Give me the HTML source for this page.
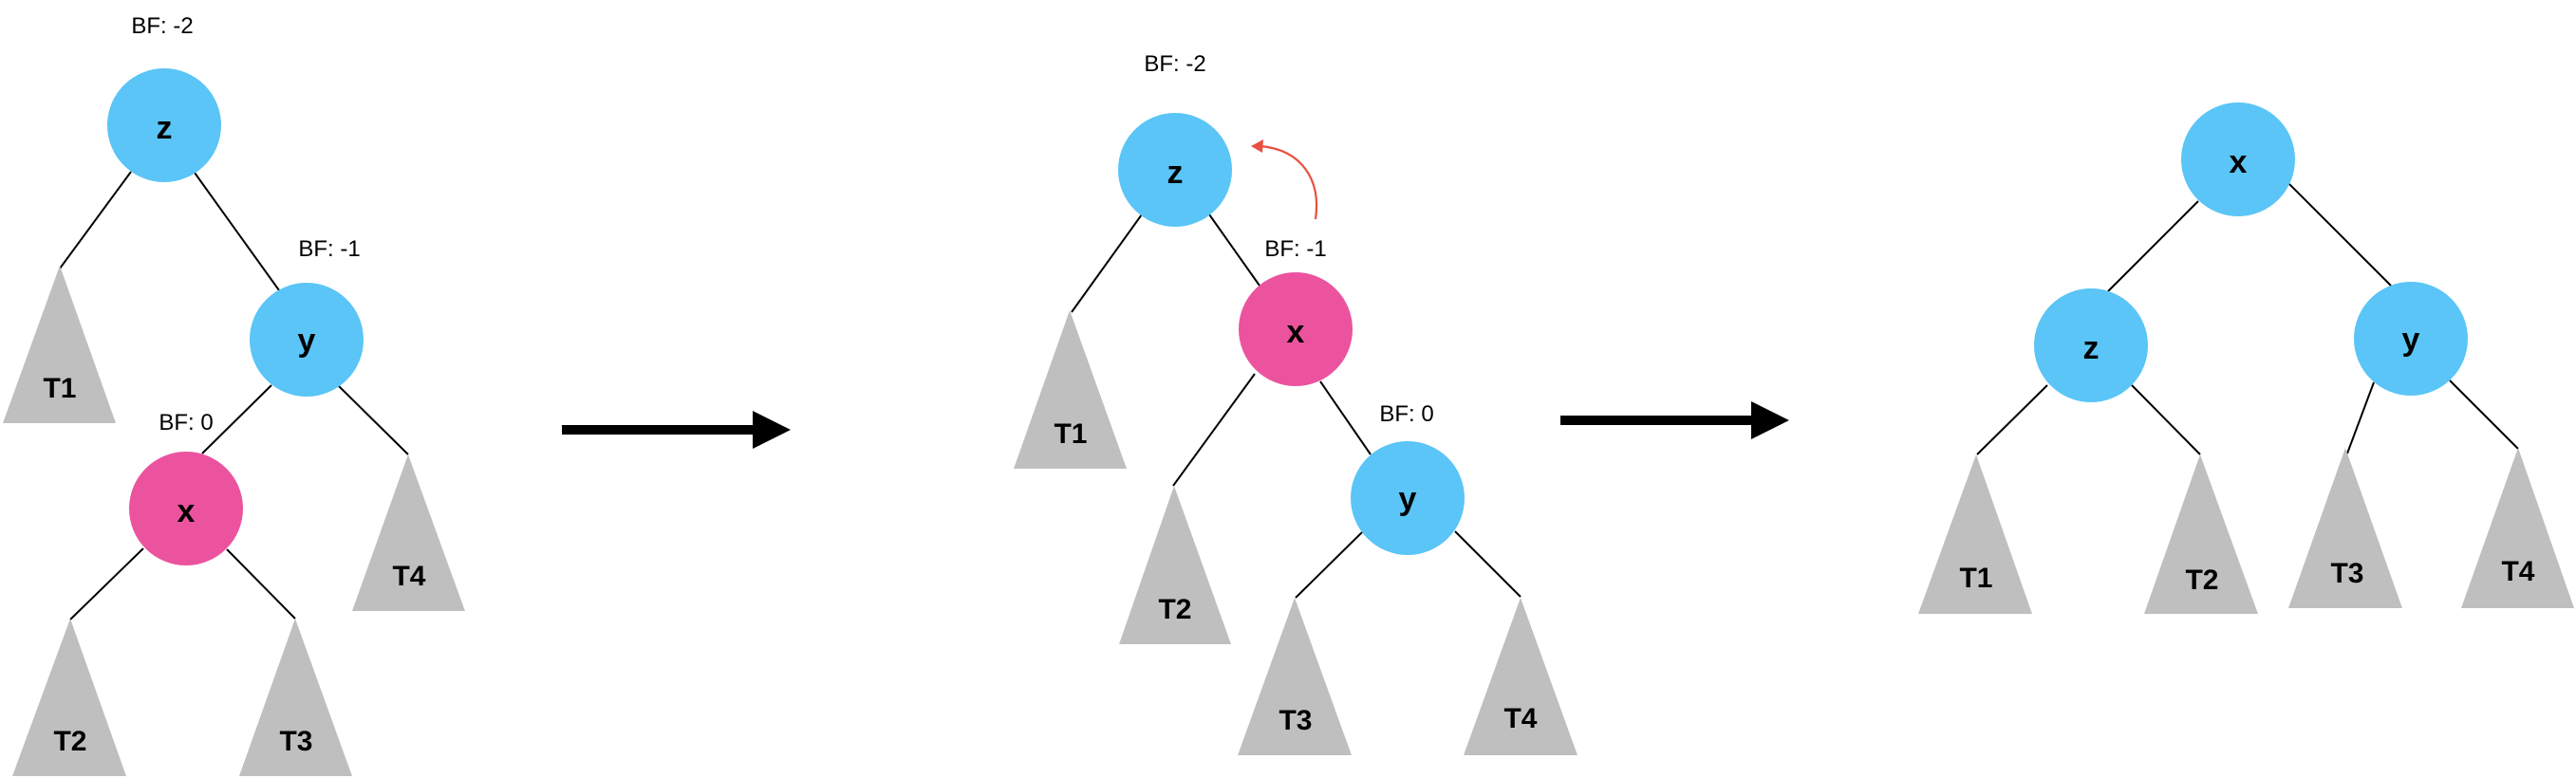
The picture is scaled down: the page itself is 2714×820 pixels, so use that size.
<!DOCTYPE html>
<html><head><meta charset="utf-8"><style>
html,body{margin:0;padding:0;background:#fff;}
svg{display:block;}
.bf{font-family:"Liberation Sans",sans-serif;font-size:24px;fill:#000;text-anchor:middle;}
.n{font-family:"Liberation Sans",sans-serif;font-size:34px;font-weight:bold;fill:#000;text-anchor:middle;}
.t{font-family:"Liberation Sans",sans-serif;font-size:30px;font-weight:bold;fill:#000;text-anchor:middle;}
line{stroke:#000;stroke-width:2;}
</style></head><body>
<svg width="2714" height="820" viewBox="0 0 2714 820" xmlns="http://www.w3.org/2000/svg">
<!-- Tree 1 -->
<line x1="138" y1="181" x2="63" y2="283"/>
<line x1="205" y1="182" x2="294" y2="306"/>
<line x1="286" y1="406" x2="213" y2="478"/>
<line x1="357" y1="407" x2="430" y2="479"/>
<line x1="151" y1="578" x2="74" y2="653"/>
<line x1="239" y1="579" x2="311" y2="652"/>
<polygon points="63,280 3,446 122,446" fill="#bfbfbf"/>
<polygon points="430,479 371,644 490,644" fill="#bfbfbf"/>
<polygon points="74,652 13,818 133,818" fill="#bfbfbf"/>
<polygon points="311,652 252,818 371,818" fill="#bfbfbf"/>
<text class="t" x="63" y="419">T1</text>
<text class="t" x="431" y="617">T4</text>
<text class="t" x="74" y="791">T2</text>
<text class="t" x="312" y="791">T3</text>
<circle cx="173" cy="132" r="60" fill="#5ac5f6"/>
<circle cx="323" cy="358" r="60" fill="#5ac5f6"/>
<circle cx="196" cy="536" r="60" fill="#eb539e"/>
<text class="n" x="173" y="146">z</text>
<text class="n" x="323" y="370">y</text>
<text class="n" x="196" y="550">x</text>
<text class="bf" x="171" y="35">BF: -2</text>
<text class="bf" x="347" y="270">BF: -1</text>
<text class="bf" x="196" y="453">BF: 0</text>
<!-- Arrow 1 -->
<rect x="592" y="448" width="205" height="10" fill="#000"/>
<polygon points="793,433 833,453 793,473" fill="#000"/>
<!-- Tree 2 -->
<line x1="1203" y1="226" x2="1129" y2="329"/>
<line x1="1274" y1="226" x2="1327" y2="301"/>
<line x1="1322" y1="394" x2="1236" y2="512"/>
<line x1="1391" y1="402" x2="1444" y2="479"/>
<line x1="1435" y1="561" x2="1365" y2="630"/>
<line x1="1533" y1="560" x2="1602" y2="629"/>
<polygon points="1127,327 1068,494 1187,494" fill="#bfbfbf"/>
<polygon points="1237,512 1179,679 1297,679" fill="#bfbfbf"/>
<polygon points="1364,630 1304,796 1424,796" fill="#bfbfbf"/>
<polygon points="1602,630 1542,796 1662,796" fill="#bfbfbf"/>
<text class="t" x="1128" y="467">T1</text>
<text class="t" x="1238" y="652">T2</text>
<text class="t" x="1365" y="769">T3</text>
<text class="t" x="1602" y="767">T4</text>
<circle cx="1238" cy="179" r="60" fill="#5ac5f6"/>
<circle cx="1365" cy="347" r="60" fill="#eb539e"/>
<circle cx="1483" cy="525" r="60" fill="#5ac5f6"/>
<text class="n" x="1238" y="193">z</text>
<text class="n" x="1365" y="361">x</text>
<text class="n" x="1483" y="537">y</text>
<text class="bf" x="1238" y="75">BF: -2</text>
<text class="bf" x="1365" y="270">BF: -1</text>
<text class="bf" x="1482" y="444">BF: 0</text>
<path d="M1386,231 C1392,190 1372,158 1328,154" fill="none" stroke="#e8503f" stroke-width="2.2"/>
<polygon points="1318,154 1331,147 1330,161" fill="#e8503f"/>
<!-- Arrow 2 -->
<rect x="1644" y="438" width="205" height="10" fill="#000"/>
<polygon points="1845,423 1885,443 1845,463" fill="#000"/>
<!-- Tree 3 -->
<line x1="2316" y1="212" x2="2221" y2="307"/>
<line x1="2412" y1="194" x2="2519" y2="301"/>
<line x1="2157" y1="406" x2="2083" y2="479"/>
<line x1="2246" y1="406" x2="2318" y2="479"/>
<line x1="2501" y1="403" x2="2473" y2="478"/>
<line x1="2581" y1="401" x2="2653" y2="473"/>
<polygon points="2082,479 2021,647 2141,647" fill="#bfbfbf"/>
<polygon points="2318,479 2259,647 2379,647" fill="#bfbfbf"/>
<polygon points="2471,472 2411,641 2531,641" fill="#bfbfbf"/>
<polygon points="2653,472 2593,641 2712,641" fill="#bfbfbf"/>
<text class="t" x="2082" y="619">T1</text>
<text class="t" x="2320" y="621">T2</text>
<text class="t" x="2473" y="614">T3</text>
<text class="t" x="2653" y="612">T4</text>
<circle cx="2358" cy="168" r="60" fill="#5ac5f6"/>
<circle cx="2203" cy="364" r="60" fill="#5ac5f6"/>
<circle cx="2540" cy="357" r="60" fill="#5ac5f6"/>
<text class="n" x="2358" y="182">x</text>
<text class="n" x="2203" y="378">z</text>
<text class="n" x="2540" y="369">y</text>
</svg>
</body></html>
